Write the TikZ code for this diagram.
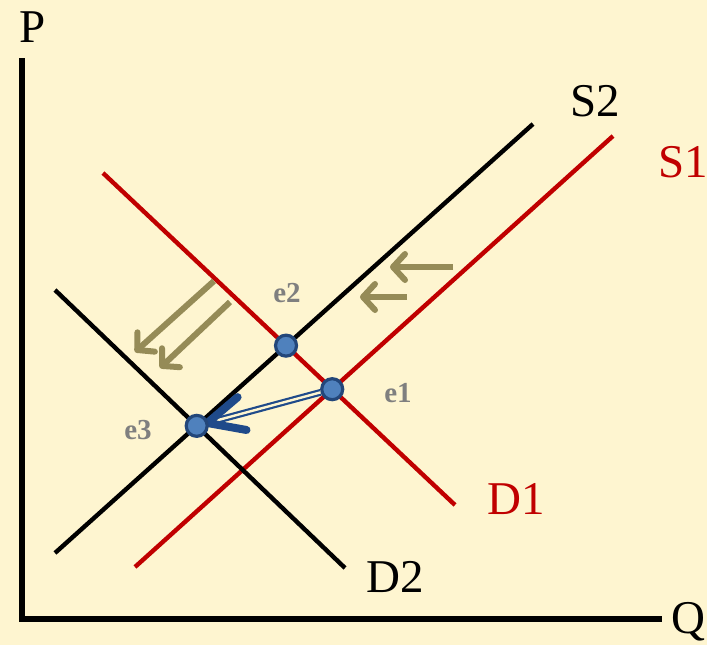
\documentclass[tikz,border=0pt]{standalone}
\usepackage{fontspec}
\setmainfont{Liberation Serif}
\usetikzlibrary{arrows.meta,calc}
\definecolor{bg}{HTML}{FEF5D0}
\definecolor{cred}{HTML}{C00000}
\definecolor{olive}{HTML}{958B57}
\definecolor{eblue}{HTML}{4F81BD}
\definecolor{edark}{HTML}{23477A}
\definecolor{darrow}{HTML}{1F4A8A}
\definecolor{lblgray}{HTML}{7F7F7F}
\begin{document}
\begin{tikzpicture}[x=1pt,y=-1pt,
  axis/.style={line width=6pt},
  curve/.style={line width=4.4pt},
  shiftarrow/.style={olive, line width=6pt, -{Straight Barb[length=12pt,width=26pt,round]}},
  eq/.style={circle, fill=eblue, draw=edark, line width=3.2pt, minimum size=21pt, inner sep=0pt},
  biglbl/.style={font=\fontsize{47}{50}\selectfont, inner sep=0pt},
  elbl/.style={font=\fontsize{29}{32}\selectfont\bfseries, text=lblgray, inner sep=0pt}]
\fill[bg] (0,0) rectangle (707,645);
\useasboundingbox (0,0) rectangle (707,645);
% axes
\coordinate (ytop) at (22,58);
\coordinate (orig) at (22,619);
\coordinate (xend) at (662,619);
\draw[axis] (ytop) -- (orig) -- (xend);
\node[biglbl] (P) at (33,27) {P};
\node[biglbl] (Q) at (688,622) {Q};
% curves
\coordinate (s1a) at (135,567); \coordinate (s1b) at (613,136);
\coordinate (s2a) at (55,553);  \coordinate (s2b) at (533,124);
\coordinate (d1a) at (103,173); \coordinate (d1b) at (455,505);
\coordinate (d2a) at (55,290);  \coordinate (d2b) at (345,568);
\draw[curve, cred] (s1a) -- (s1b);
\draw[curve, cred] (d1a) -- (d1b);
\draw[curve, black] (s2a) -- (s2b);
\draw[curve, black] (d2a) -- (d2b);
\node[biglbl] (S2) at (595,101) {S2};
\node[biglbl, text=cred] (S1) at (683,162) {S1};
\node[biglbl, text=cred] (D1) at (516,499) {D1};
\node[biglbl] (D2) at (395,577) {D2};
% shift arrows
\coordinate (a1s) at (453,267); \coordinate (a1e) at (390,267);
\coordinate (a2s) at (407,297); \coordinate (a2e) at (360,297);
\coordinate (a3s) at (214,281); \coordinate (a3e) at (135,352);
\coordinate (a4s) at (230,302); \coordinate (a4e) at (160,368);
\draw[shiftarrow] (a1s) -- (a1e);
\draw[shiftarrow] (a2s) -- (a2e);
\draw[shiftarrow] (a3s) -- (a3e);
\draw[shiftarrow] (a4s) -- (a4e);
% equilibria
\coordinate (E1) at (intersection of d1a--d1b and s1a--s1b);
\coordinate (E2) at (intersection of d1a--d1b and s2a--s2b);
\coordinate (E3) at (intersection of d2a--d2b and s2a--s2b);
% movement arrow e1 -> e3
\coordinate (tip) at ($(E3)!11pt!(E1)$);
\coordinate (back) at ($(tip)!36pt!(E1)$);
\coordinate (armA) at ($(back)!17pt!90:(tip)$);
\coordinate (armB) at ($(back)!17pt!-90:(tip)$);
\coordinate (shaftS) at ($(E1)!12pt!(E3)$);
\coordinate (shaftE) at ($(tip)!4pt!(E1)$);
\draw[darrow, line width=2.2pt, double=bg, double distance=2.4pt] (shaftS) -- (shaftE);
\draw[darrow, line width=8pt, line cap=round, line join=round] (armA) -- (tip) -- (armB);
\node[eq] (e1) at (E1) {};
\node[eq] (e2) at (E2) {};
\node[eq] (e3) at (E3) {};
\node[elbl] (l1) at (398,393) {e1};
\node[elbl] (l2) at (287,293) {e2};
\node[elbl] (l3) at (138,430) {e3};
\end{tikzpicture}
\end{document}
